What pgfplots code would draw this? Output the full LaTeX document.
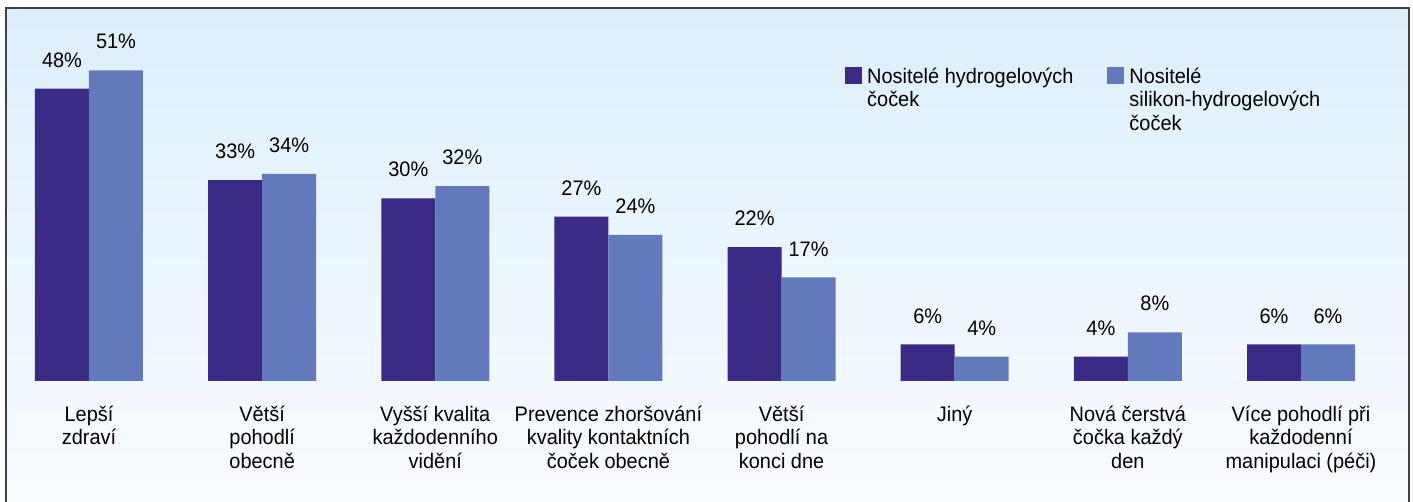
\documentclass[border=0pt]{standalone}
\usepackage{fontspec}
\setmainfont{Liberation Sans}[FakeStretch=0.95]
\usepackage{pgfplots}
\pgfplotsset{compat=1.18}
\definecolor{dk}{RGB}{59,42,133}
\definecolor{lt}{RGB}{98,121,187}
\definecolor{bgtop}{RGB}{221,239,251}
\definecolor{bgbot}{RGB}{249,252,255}
\newcommand{\lf}{\fontsize{21}{23.5}\selectfont}
\begin{document}
\begin{tikzpicture}
\useasboundingbox (0pt,0pt) rectangle (1413pt,502pt);
\shade[top color=bgtop,bottom color=bgbot] (6pt,-5pt) rectangle (1409pt,494pt);
\draw[line width=1.8pt, black!75] (6pt,-10pt) -- (6pt,494pt) -- (1409pt,494pt) -- (1409pt,-10pt);
\begin{axis}[at={(0pt,121pt)}, anchor=south west, scale only axis,
  width=1413pt, height=381pt,
  xmin=-0.514, xmax=7.647, ymin=0, ymax=62.56,
  ybar=0pt, bar width=54pt,
  axis line style={draw=none}, major tick length=0pt, ytick=\empty,
  xtick=data,
  xticklabels={{Lepší\\zdraví},{Větší\\pohodlí\\obecně},{Vyšší kvalita\\každodenního\\vidění},{Prevence zhoršování\\kvality kontaktních\\čoček obecně},{Větší\\pohodlí na\\konci dne},{Jiný},{Nová čerstvá\\čočka každý\\den},{Více pohodlí při\\každodenní\\manipulaci (péči)}},
  xticklabel style={align=center, font=\lf, anchor=north, inner sep=2pt, yshift=-22.5pt},
  /pgf/number format/assume math mode=true,
  nodes near coords={\pgfmathprintnumber{\pgfplotspointmeta}\%},
  every node near coord/.append style={font=\lf, inner sep=2pt, yshift=19pt, text=black},
  clip=false,
  legend style={at={(rel axis cs:0.598,0.829)}, anchor=north west, draw=none, fill=none,
    inner sep=0pt, font=\lf, legend columns=2,
    cells={anchor=north west, align=left, inner ysep=2pt},
    /tikz/every even column/.append style={column sep=32pt}},
]
\addplot[fill=dk, draw=none, legend image code/.code={\fill[dk] (0pt,-2pt) rectangle (17pt,-19pt); \path (20pt,-2pt);}]
  coordinates {(0,48) (1,33) (2,30) (3,27) (4,22) (5,6) (6,4) (7,6)};
\addlegendentry{Nositelé hydrogelových\\čoček}
\addplot[fill=lt, draw=none, legend image code/.code={\fill[lt] (0pt,-2pt) rectangle (17pt,-19pt); \path (20pt,-2pt);}]
  coordinates {(0,51) (1,34) (2,32) (3,24) (4,17) (5,4) (6,8) (7,6)};
\addlegendentry{Nositelé\\silikon-hydrogelových\\čoček}
\end{axis}
\end{tikzpicture}
\end{document}
